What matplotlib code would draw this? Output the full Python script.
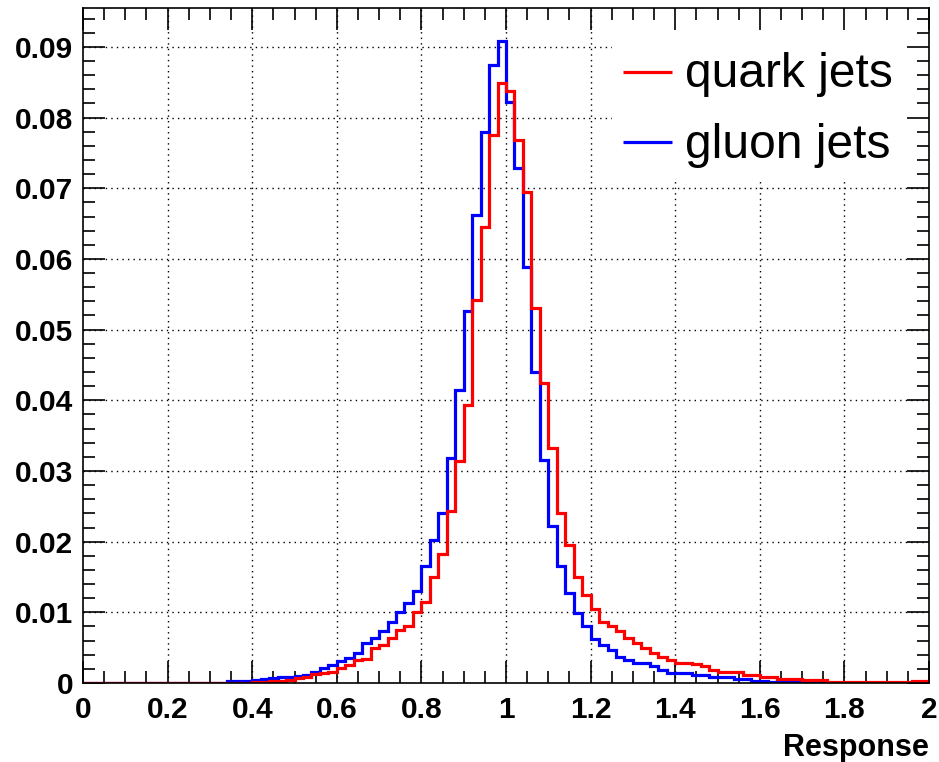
import numpy as np
import matplotlib
matplotlib.use("Agg")
import matplotlib.pyplot as plt
from matplotlib.patches import Rectangle
from matplotlib.ticker import MultipleLocator, FixedLocator

plt.rcParams['font.family'] = ['Liberation Sans', 'DejaVu Sans']

# 100 bins of width 0.02 from 0 to 2
bin_edges = np.linspace(0.0, 2.0, 101)

gluon_jets = [
    0, 0, 0, 0, 0, 0, 0, 0, 0, 0,
    0, 0, 0, 0, 0, 0, 0, 0.0003, 0.0003, 0.0003,
    0.0004, 0.0006, 0.0007, 0.0008, 0.0009, 0.0010, 0.0012, 0.0016, 0.0021, 0.0026,
    0.0031, 0.0035, 0.0042, 0.0057, 0.0064, 0.0073, 0.0087, 0.0100, 0.0113, 0.0130,
    0.0166, 0.0202, 0.0241, 0.0318, 0.0414, 0.0527, 0.0662, 0.0779, 0.0875, 0.0909,
    0.0822, 0.0728, 0.0589, 0.0440, 0.0315, 0.0222, 0.0166, 0.0127, 0.0099, 0.0080,
    0.0062, 0.0054, 0.0047, 0.0037, 0.0033, 0.0028, 0.0028, 0.0024, 0.0019, 0.0014,
    0.0014, 0.0014, 0.0011, 0.0011, 0.0008, 0.0008, 0.0008, 0.0005, 0.0005, 0.0003,
    0.0003, 0.0002, 0.0002, 0.0001, 0.0002, 0.0002, 0.0001, 0, 0, 0,
    0, 0, 0, 0, 0, 0, 0, 0, 0, 0,
]

quark_jets = [
    0, 0, 0, 0, 0, 0, 0, 0, 0, 0,
    0, 0, 0, 0, 0, 0, 0, 0, 0, 0,
    0.0001, 0.0002, 0.0003, 0.0003, 0.0004, 0.0007, 0.0008, 0.0013, 0.0014, 0.0015,
    0.0021, 0.0025, 0.0033, 0.0034, 0.0050, 0.0054, 0.0063, 0.0075, 0.0080, 0.0101,
    0.0114, 0.0150, 0.0183, 0.0243, 0.0314, 0.0394, 0.0542, 0.0645, 0.0775, 0.0849,
    0.0837, 0.0768, 0.0695, 0.0530, 0.0425, 0.0332, 0.0241, 0.0195, 0.0150, 0.0125,
    0.0104, 0.0086, 0.0081, 0.0073, 0.0063, 0.0056, 0.0050, 0.0042, 0.0037, 0.0032,
    0.0029, 0.0029, 0.0027, 0.0024, 0.0018, 0.0016, 0.0016, 0.0016, 0.0011, 0.0011,
    0.0008, 0.0008, 0.0006, 0.0006, 0.0006, 0.0004, 0.0004, 0.0004, 0.0002, 0.0002,
    0.0002, 0.0002, 0.0002, 0.0002, 0.0002, 0.0001, 0.0001, 0.0001, 0.0003, 0.0003,
]

x_ticks = [0, 0.2, 0.4, 0.6, 0.8, 1.0, 1.2, 1.4, 1.6, 1.8, 2.0]
x_tick_labels = ["0", "0.2", "0.4", "0.6", "0.8", "1", "1.2", "1.4", "1.6", "1.8", "2"]
y_ticks = [0, 0.01, 0.02, 0.03, 0.04, 0.05, 0.06, 0.07, 0.08, 0.09]
y_tick_labels = ["0", "0.01", "0.02", "0.03", "0.04", "0.05", "0.06", "0.07", "0.08", "0.09"]
legend_labels = ["quark jets", "gluon jets"]
x_label = "Response"

fig = plt.figure(figsize=(9.39, 7.62), dpi=100)
ax = fig.add_axes([83 / 939, 1 - 683 / 762, 846 / 939, 675 / 762])

ax.set_xlim(0, 2)
ax.set_ylim(0, 0.0955)

# dotted grid at major ticks (drawn manually so ticks stay above legend box)
for xv in x_ticks[1:-1]:
    ax.axvline(xv, color='black', lw=1.0, ls=(0, (1, 3)), zorder=0.5)
for yv in y_ticks[1:]:
    ax.axhline(yv, color='black', lw=1.0, ls=(0, (1, 3)), zorder=0.5)

ax.stairs(gluon_jets, bin_edges, baseline=None, color='#0000ff', lw=2.3, zorder=3)
ax.stairs(quark_jets, bin_edges, baseline=None, color='#ff0000', lw=2.3, zorder=3.1)

# legend box (white, covers grid)
ax.add_patch(Rectangle((0.625, 0.745), 0.375, 0.255, transform=ax.transAxes,
                       facecolor='white', edgecolor='none', zorder=1))
leg_colors = ['#ff0000', '#0000ff']
leg_y = [0.905, 0.801]
for lab, col, yy in zip(legend_labels, leg_colors, leg_y):
    ax.plot([0.638, 0.696], [yy, yy], transform=ax.transAxes, color=col, lw=2.3,
            zorder=4, solid_capstyle='butt')
    ax.text(0.711, yy - 0.004, lab, transform=ax.transAxes, fontsize=34.5, va='center',
            ha='left', zorder=4)

ax.xaxis.set_major_locator(FixedLocator(x_ticks))
ax.set_xticklabels(x_tick_labels)
ax.yaxis.set_major_locator(FixedLocator(y_ticks))
ax.set_yticklabels(y_tick_labels)
ax.xaxis.set_minor_locator(MultipleLocator(0.05))
ax.yaxis.set_minor_locator(MultipleLocator(0.002))

ax.tick_params(which='both', direction='in', top=True, right=True, width=1.2,
               color='black')
ax.tick_params(which='major', length=16)
ax.tick_params(which='minor', length=8.5)
ax.tick_params(axis='x', which='major', pad=9)
ax.tick_params(axis='y', which='major', pad=7)
for lab in ax.get_xticklabels() + ax.get_yticklabels():
    lab.set_fontsize(21.5)
    lab.set_fontweight('bold')

for sp in ax.spines.values():
    sp.set_linewidth(1.2)
    sp.set_zorder(5)

ax.set_xlabel(x_label, fontsize=22, fontweight='bold', loc='right', labelpad=7)

fig.savefig("out.png", dpi=100)
